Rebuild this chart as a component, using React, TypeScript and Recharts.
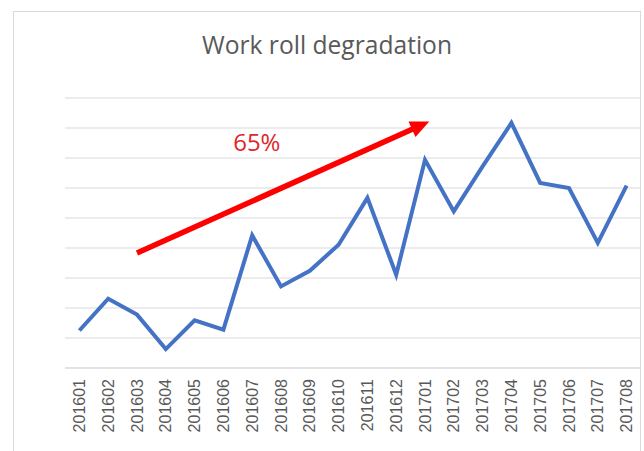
import React from 'react';
import { LineChart, Line, XAxis, YAxis, CartesianGrid, ReferenceLine, ReferenceDot } from 'recharts';

const months = [
  '201601', '201602', '201603', '201604', '201605', '201606', '201607', '201608', '201609', '201610',
  '201611', '201612', '201701', '201702', '201703', '201704', '201705', '201706', '201707', '201708',
];
const degradation = [
  1.25, 2.31, 1.78, 0.63, 1.59, 1.28, 4.42, 2.72, 3.24, 4.11,
  5.67, 3.11, 6.94, 5.22, 6.72, 8.17, 6.17, 6.0, 4.17, 6.08,
];
const yTicks = [0, 1, 2, 3, 4, 5, 6, 7, 8, 9];
const arrowStart = { x: 2, y: 3.83 };
const arrowEnd = { x: 12.15, y: 8.22 };
const arrowLabel = { x: 6.16, y: 7.51, text: '65%' };
const title = 'Work roll degradation';

const data = months.map((m, i) => ({ month: m, idx: i, value: degradation[i] }));

const MonthTick = (props: any) => {
  const { x, y, payload } = props;
  const ty = y + 11;
  return (
    <text
      x={x}
      y={ty}
      transform={`rotate(-90 ${x} ${ty})`}
      textAnchor="end"
      dominantBaseline="central"
      fill="#595959"
      fontSize={16}
      fontFamily="Liberation Sans, Arial, sans-serif"
    >
      {payload.value}
    </text>
  );
};

const ArrowShape = (props: any) => {
  const { x1, y1, x2, y2 } = props;
  if ([x1, y1, x2, y2].some((v) => typeof v !== 'number' || isNaN(v))) return null;
  const dx = x2 - x1;
  const dy = y2 - y1;
  const len = Math.sqrt(dx * dx + dy * dy);
  const ux = dx / len;
  const uy = dy / len;
  const headLen = 19;
  const headHalf = 8.5;
  const bx = x2 - ux * headLen;
  const by = y2 - uy * headLen;
  const px = -uy;
  const py = ux;
  const pts = `${x2},${y2} ${bx + px * headHalf},${by + py * headHalf} ${bx - px * headHalf},${by - py * headHalf}`;
  return (
    <g>
      <line x1={x1} y1={y1} x2={bx + ux * 2} y2={by + uy * 2} stroke="#FF0000" strokeWidth={5.5} />
      <polygon points={pts} fill="#FF0000" />
    </g>
  );
};

export default function App() {
  return (
    <div
      style={{
        position: 'absolute',
        left: 0,
        top: 0,
        width: 644,
        height: 451,
        overflow: 'hidden',
        background: '#ffffff',
      }}
    >
      <div
        style={{
          position: 'absolute',
          left: 13,
          top: 11,
          width: 628,
          height: 460,
          border: '1px solid #D9D9D9',
          boxSizing: 'border-box',
        }}
      />
      <div
        style={{
          position: 'absolute',
          left: 13,
          top: 33,
          width: 628,
          textAlign: 'center',
          fontFamily: '"Open Sans", sans-serif',
          fontSize: 24.6,
          lineHeight: '24px',
          color: '#595959',
        }}
      >
        {title}
      </div>
      <div style={{ position: 'absolute', left: 0, top: 0 }}>
        <LineChart
          width={644}
          height={451}
          data={data}
          margin={{ top: 98, right: 3, left: 65, bottom: 12 }}
        >
          <CartesianGrid horizontal vertical={false} stroke="#D9D9D9" strokeWidth={1} />
          <XAxis
            dataKey="month"
            interval={0}
            height={71}
            padding={{ left: 14.4, right: 14.4 }}
            tickLine={false}
            tickSize={0}
            tickMargin={0}
            axisLine={{ stroke: '#D9D9D9' }}
            tick={<MonthTick />}
          />
          <XAxis xAxisId="n" type="number" dataKey="idx" domain={[-0.5, 19.5]} hide />
          <YAxis hide domain={[0, 9]} ticks={yTicks} />
          <Line
            type="linear"
            dataKey="value"
            stroke="#4472C4"
            strokeWidth={4}
            dot={false}
            activeDot={false}
            isAnimationActive={false}
          />
          <ReferenceLine
            xAxisId="n"
            segment={[arrowStart, arrowEnd]}
            shape={ArrowShape}
            ifOverflow="visible"
          />
          <ReferenceDot
            xAxisId="n"
            x={arrowLabel.x}
            y={arrowLabel.y}
            r={0}
            fill="none"
            stroke="none"
            ifOverflow="visible"
            label={{
              value: arrowLabel.text,
              position: 'center',
              fill: '#E0262A',
              fontSize: 24,
              fontFamily: 'Open Sans, sans-serif',
            }}
          />
        </LineChart>
      </div>
    </div>
  );
}
